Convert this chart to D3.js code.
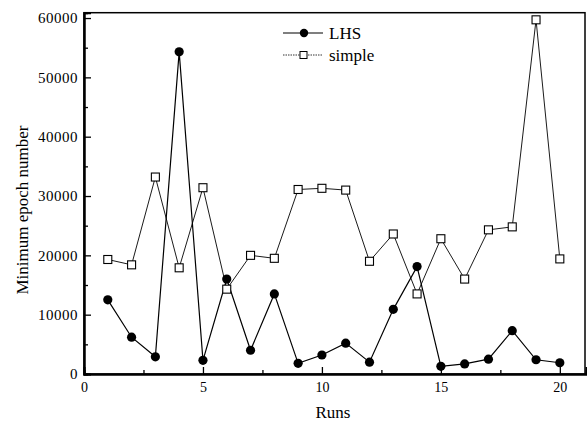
<!DOCTYPE html>
<html>
<head>
  <meta charset="utf-8">
  <title>Minimum epoch number per run</title>
  <script src="https://d3js.org/d3.v7.min.js"></script>
  <style>
    body { margin: 0; background: #fff; }
    svg text { font-family: "Liberation Serif", "Times New Roman", serif !important; }
  </style>
</head>
<body>
<div id="chart"></div>
<script>
// data
var runs = [1, 2, 3, 4, 5, 6, 7, 8, 9, 10, 11, 12, 13, 14, 15, 16, 17, 18, 19, 20];
var lhs = [12500, 6200, 2900, 54300, 2300, 16000, 4000, 13500, 1800, 3200,
           5200, 2000, 10900, 18100, 1300, 1700, 2500, 7300, 2400, 1900];
var simple = [19300, 18400, 33200, 17900, 31400, 14300, 20000, 19500, 31100, 31300,
              31000, 19000, 23600, 13500, 22800, 16000, 24300, 24800, 59700, 19400];
var xTicks = [0, 5, 10, 15, 20];
var xMinor = [2.5, 7.5, 12.5, 17.5];
var yTicks = [0, 10000, 20000, 30000, 40000, 50000, 60000];
var yMinor = [5000, 15000, 25000, 35000, 45000, 55000];
var seriesNames = ["LHS", "simple"];

var width = 587, height = 425;
var svg = d3.select("#chart").append("svg").attr("width", width).attr("height", height);

var x = d3.scaleLinear().domain([0, 21.1]).range([84, 586]);
var y = d3.scaleLinear().domain([0, 60900]).range([374, 12.7]);

// frame (top + right)
svg.append("rect")
  .attr("x", x(0)).attr("y", y(60900))
  .attr("width", x(21.1) - x(0) - 1).attr("height", y(0) - y(60900))
  .attr("fill", "none").attr("stroke", "#000").attr("stroke-width", 1.5);

// axes, ticks pointing inward
var xAxis = svg.append("g").attr("transform", "translate(0," + y(0) + ")")
  .call(d3.axisBottom(x).tickValues(xTicks).tickSize(-7).tickPadding(8).tickFormat(d3.format("d")));
svg.append("g").attr("transform", "translate(0," + y(0) + ")")
  .call(d3.axisBottom(x).tickValues(xMinor).tickSize(-4).tickFormat(""));
var yAxis = svg.append("g").attr("transform", "translate(" + x(0) + ",0)")
  .call(d3.axisLeft(y).tickValues(yTicks).tickSize(-7).tickPadding(6).tickFormat(d3.format("d")));
svg.append("g").attr("transform", "translate(" + x(0) + ",0)")
  .call(d3.axisLeft(y).tickValues(yMinor).tickSize(-4).tickFormat(""));

svg.selectAll(".domain").attr("stroke-width", 2);
svg.selectAll(".tick line").attr("stroke-width", 1.3);
svg.selectAll(".tick text").attr("font-size", 14).attr("fill", "#000");
yAxis.selectAll(".tick text").attr("font-size", 15).style("letter-spacing", "0.5px");

// axis titles
svg.append("text")
  .attr("x", 333).attr("y", 418)
  .attr("text-anchor", "middle").attr("font-size", 17)
  .text("Runs");
svg.append("text")
  .attr("transform", "translate(28," + 210 + ") rotate(-90)")
  .attr("text-anchor", "middle").attr("font-size", 17)
  .text("Minimum epoch number");

// lines
var line = d3.line().x(function(d, i) { return x(runs[i]); }).y(function(d) { return y(d); });

svg.append("path").datum(simple)
  .attr("d", line).attr("fill", "none").attr("stroke", "#000").attr("stroke-width", 0.9);
svg.append("path").datum(lhs)
  .attr("d", line).attr("fill", "none").attr("stroke", "#000").attr("stroke-width", 1.2);

svg.selectAll("rect.sq").data(simple).enter().append("rect")
  .attr("class", "sq")
  .attr("x", function(d, i) { return x(runs[i]) - 4; })
  .attr("y", function(d) { return y(d) - 4; })
  .attr("width", 8).attr("height", 8)
  .attr("fill", "#fff").attr("stroke", "#000").attr("stroke-width", 1.1);

svg.selectAll("circle.dot").data(lhs).enter().append("circle")
  .attr("class", "dot")
  .attr("cx", function(d, i) { return x(runs[i]); })
  .attr("cy", function(d) { return y(d); })
  .attr("r", 4.6).attr("fill", "#000");

// legend
var legend = svg.append("g").attr("transform", "translate(283,33)");
seriesNames.forEach(function(name, i) {
  var row = legend.append("g").attr("transform", "translate(0," + i * 22 + ")");
  row.append("line").attr("x1", 0).attr("x2", 40).attr("y1", 0).attr("y2", 0)
    .attr("stroke", "#000").attr("stroke-width", i === 0 ? 1.2 : 0.8)
    .attr("stroke-dasharray", i === 0 ? null : "1.5,1");
  if (i === 0) {
    row.append("circle").attr("cx", 21).attr("cy", 0).attr("r", 4.2).attr("fill", "#000");
  } else {
    row.append("rect").attr("x", 17).attr("y", -3.5).attr("width", 7).attr("height", 7)
      .attr("fill", "#fff").attr("stroke", "#000");
  }
  row.append("text").attr("x", 46).attr("y", 5.5).attr("font-size", 17).text(name);
});
</script>
</body>
</html>
